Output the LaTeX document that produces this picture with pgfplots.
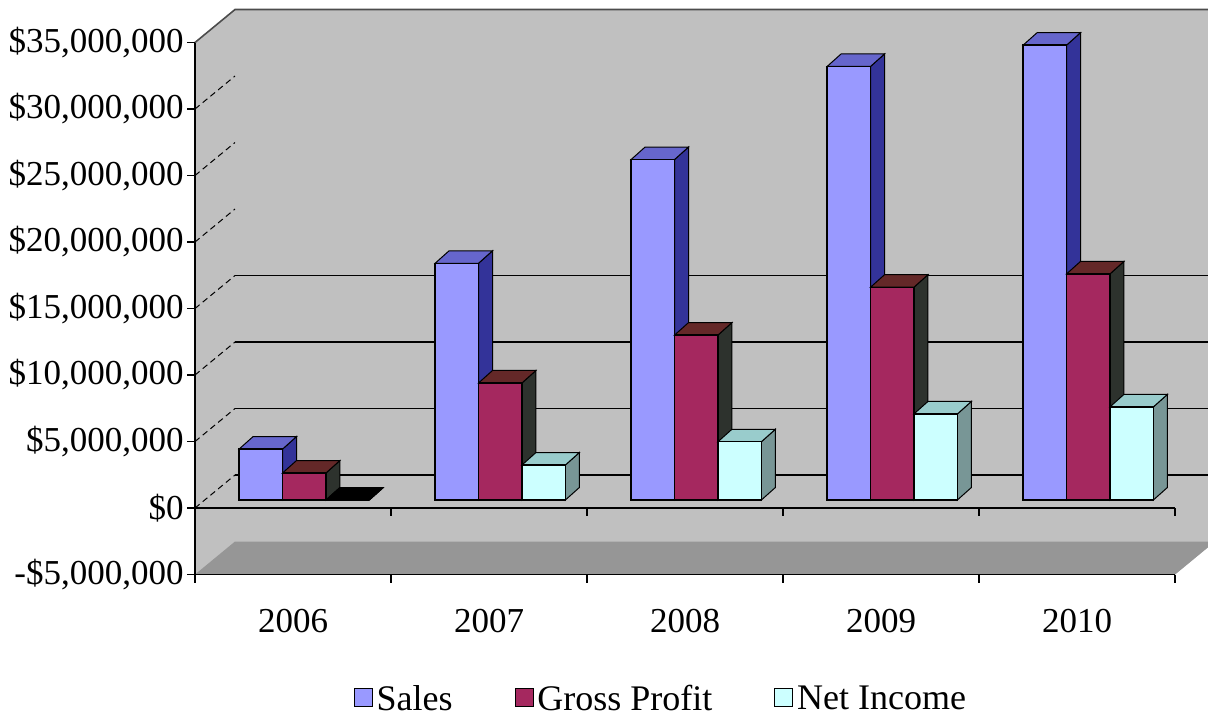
\documentclass[border=0pt]{standalone}
\usepackage{pgfplots}
\pgfplotsset{compat=1.18}
\usepackage{pgfplotstable}
\usepackage{fontspec}
\setmainfont{Liberation Serif}

\definecolor{wallC}{RGB}{192,192,192}
\definecolor{floorC}{RGB}{150,150,150}
\definecolor{salesF}{RGB}{153,153,255}
\definecolor{salesS}{RGB}{51,51,153}
\definecolor{salesT}{RGB}{102,102,204}
\definecolor{gpF}{RGB}{165,40,95}
\definecolor{gpS}{RGB}{45,50,45}
\definecolor{gpT}{RGB}{100,40,40}
\definecolor{niF}{RGB}{204,255,255}
\definecolor{niS}{RGB}{120,150,150}
\definecolor{niT}{RGB}{153,204,204}

% values in millions of dollars
\pgfplotstableread{
year sales gross net
2006 3.83 2.03 0.0
2007 17.8 8.8 2.63
2008 25.6 12.4 4.38
2009 32.6 16.0 6.47
2010 34.2 17.0 7.0
}\datatable

% #1 row, #2 column, #3 series index, #4 front, #5 side, #6 top, #7 edge
\newcommand\drawbar[7]{%
  \pgfplotstablegetelem{#1}{#2}\of\datatable
  \pgfmathsetmacro\bv{\pgfplotsretval}%
  \pgfmathsetmacro\xa{#1+0.225+#3*0.2215}%
  \pgfmathsetmacro\xb{\xa+0.2215}%
  \pgfmathsetmacro\xc{\xb+0.0714}%
  \pgfmathsetmacro\xd{\xa+0.0714}%
  \pgfmathsetmacro\ya{0.6}%
  \pgfmathsetmacro\yb{\bv+0.6}%
  \pgfmathsetmacro\yc{\ya+0.94}%
  \pgfmathsetmacro\yd{\yb+0.94}%
  \addplot[forget plot, fill=#5, draw=#7, line width=0.5pt] coordinates {(\xb,\ya) (\xc,\yc) (\xc,\yd) (\xb,\yb)} -- cycle;
  \addplot[forget plot, fill=#6, draw=#7, line width=0.5pt] coordinates {(\xa,\yb) (\xb,\yb) (\xc,\yd) (\xd,\yd)} -- cycle;
  \addplot[forget plot, fill=#4, draw=#7, line width=0.7pt] coordinates {(\xa,\ya) (\xb,\ya) (\xb,\yb) (\xa,\yb)} -- cycle;
}

\begin{document}
\begin{tikzpicture}
\path[use as bounding box] (0,0) rectangle (604pt,359.5pt);
\begin{axis}[
  at={(97.5pt,72.25pt)}, anchor=south west,
  scale only axis, width=490pt, height=266pt,
  xmin=0, xmax=5, ymin=-5, ymax=35,
  clip=false,
  axis on top,
  axis x line*=bottom, axis y line*=left,
  axis line style={-, black, line width=0.9pt},
  xtick={0,1,2,3,4,5},
  xticklabels={2006,2007,2008,2009,2010,{}},
  xticklabel style={xshift=49pt, yshift=-10pt, font=\fontsize{17.5}{19}\selectfont},
  ytick={-5,0,5,10,15,20,25,30,35},
  yticklabels={{-\$5,000,000},{\$0},{\$5,000,000},{\$10,000,000},{\$15,000,000},{\$20,000,000},{\$25,000,000},{\$30,000,000},{\$35,000,000}},
  yticklabel style={font=\fontsize{17.5}{19}\selectfont, inner sep=1.5pt},
  tick align=outside,
  major tick length=4pt,
  tick style={black, line width=0.8pt},
  legend columns=3,
  legend style={at={(0.4765,-0.235)}, anchor=center, draw=none, fill=none,
    font=\fontsize{18}{20}\selectfont,
    /tikz/every even column/.append style={column sep=29pt}},
  legend image code/.code={\draw[#1] (0pt,-3.5pt) rectangle (9pt,5.5pt);},
]
% walls and floor
\fill[wallC] (axis cs:0,-5) -- (axis cs:0,35) -- (axis cs:0.204,37.48) -- (axis cs:5.3,37.48)
  -- (axis cs:5.3,-2.52) -- (axis cs:5.204,-2.52) -- (axis cs:5,-5) -- cycle;
\draw[gray!60!black, line width=0.8pt] (axis cs:0,35) -- (axis cs:0.204,37.48) -- (axis cs:5.3,37.48);
\fill[floorC] (axis cs:0,-5) -- (axis cs:0.204,-2.52) -- (axis cs:5.204,-2.52) -- (axis cs:5,-5) -- cycle;
% back wall gridlines
\draw[black, line width=0.8pt] (axis cs:0.204,2.48) -- (axis cs:5.3,2.48);
\draw[black, line width=0.8pt] (axis cs:0.204,7.48) -- (axis cs:5.3,7.48);
\draw[black, line width=0.8pt] (axis cs:0.204,12.48) -- (axis cs:5.3,12.48);
\draw[black, line width=0.8pt] (axis cs:0.204,17.48) -- (axis cs:5.3,17.48);
% side wall gridlines
\draw[black, densely dashed, line width=0.5pt] (axis cs:0,0) -- (axis cs:0.204,2.48);
\draw[black, densely dashed, line width=0.5pt] (axis cs:0,5) -- (axis cs:0.204,7.48);
\draw[black, densely dashed, line width=0.5pt] (axis cs:0,10) -- (axis cs:0.204,12.48);
\draw[black, densely dashed, line width=0.5pt] (axis cs:0,15) -- (axis cs:0.204,17.48);
\draw[black, densely dashed, line width=0.5pt] (axis cs:0,20) -- (axis cs:0.204,22.48);
\draw[black, densely dashed, line width=0.5pt] (axis cs:0,25) -- (axis cs:0.204,27.48);
\draw[black, densely dashed, line width=0.5pt] (axis cs:0,30) -- (axis cs:0.204,32.48);
% front zero line with small ticks
\draw[black, line width=0.9pt] (axis cs:0,0) -- (axis cs:5,0);
\draw[black, line width=0.8pt] (axis cs:1,0) -- ([yshift=-4pt]axis cs:1,0);
\draw[black, line width=0.8pt] (axis cs:2,0) -- ([yshift=-4pt]axis cs:2,0);
\draw[black, line width=0.8pt] (axis cs:3,0) -- ([yshift=-4pt]axis cs:3,0);
\draw[black, line width=0.8pt] (axis cs:4,0) -- ([yshift=-4pt]axis cs:4,0);
\draw[black, line width=0.8pt] (axis cs:5,0) -- ([yshift=-4pt]axis cs:5,0);
% bars
\drawbar{0}{sales}{0}{salesF}{salesS}{salesT}{black}
\drawbar{0}{gross}{1}{gpF}{gpS}{gpT}{black}
\drawbar{0}{net}{2}{black}{black}{black}{black}
\drawbar{1}{sales}{0}{salesF}{salesS}{salesT}{black}
\drawbar{1}{gross}{1}{gpF}{gpS}{gpT}{black}
\drawbar{1}{net}{2}{niF}{niS}{niT}{black}
\drawbar{2}{sales}{0}{salesF}{salesS}{salesT}{black}
\drawbar{2}{gross}{1}{gpF}{gpS}{gpT}{black}
\drawbar{2}{net}{2}{niF}{niS}{niT}{black}
\drawbar{3}{sales}{0}{salesF}{salesS}{salesT}{black}
\drawbar{3}{gross}{1}{gpF}{gpS}{gpT}{black}
\drawbar{3}{net}{2}{niF}{niS}{niT}{black}
\drawbar{4}{sales}{0}{salesF}{salesS}{salesT}{black}
\drawbar{4}{gross}{1}{gpF}{gpS}{gpT}{black}
\drawbar{4}{net}{2}{niF}{niS}{niT}{black}
% legend
\addlegendimage{fill=salesF, draw=black}
\addlegendentry{Sales}
\addlegendimage{fill=gpF, draw=black}
\addlegendentry{Gross Profit}
\addlegendimage{fill=niF, draw=black}
\addlegendentry{Net Income}
\end{axis}
\end{tikzpicture}
\end{document}
